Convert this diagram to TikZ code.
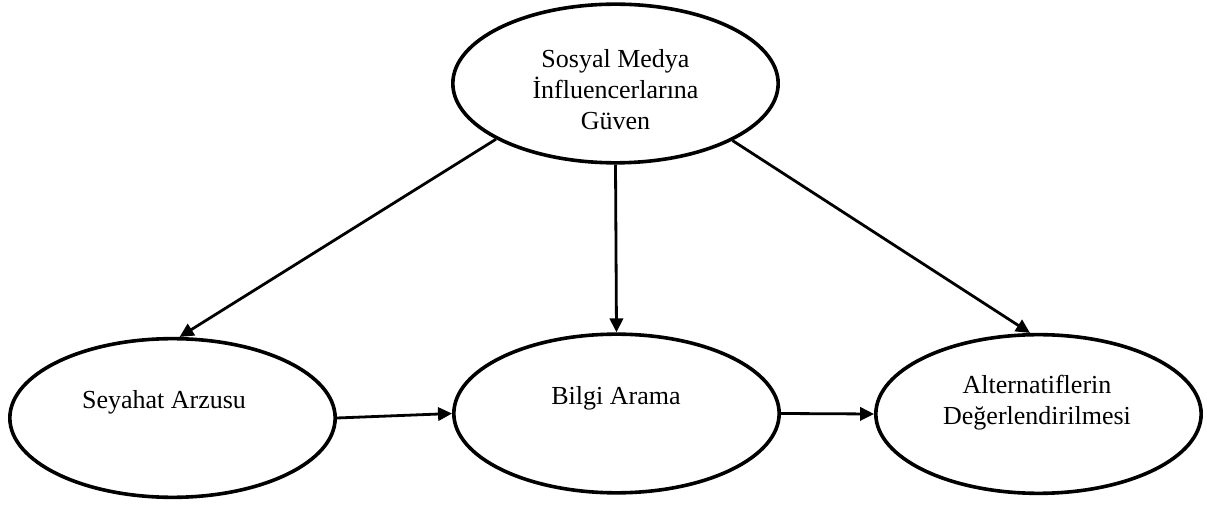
\documentclass[tikz,border=0pt]{standalone}
\usepackage{fontspec}
\setmainfont{Liberation Serif}
\usetikzlibrary{arrows.meta,positioning,shapes.geometric}

\tikzset{
  oval/.style={ellipse, draw, line width=2.7pt, minimum width=244pt, minimum height=119pt, inner sep=0pt},
  ovaltext/.style={align=center, font=\fontsize{19.5}{23.25}\selectfont, inner sep=0pt},
  causal/.style={-{Triangle[length=10.5pt,width=10pt]}, line width=2.1pt}
}

\begin{document}
\begin{tikzpicture}[x=0.75pt,y=-0.75pt]
	\useasboundingbox (0,0) rectangle (1207,505);
	
	% ovals
	\node[oval] (guven) at (615.5,83.5) {};
	\node[oval] (seyahat) at (172.5,418) {};
	\node[oval] (bilgi) at (616.5,413.5) {};
	\node[oval] (alternatif) at (1038.5,414) {};
	
	% texts
	\node[ovaltext] (guvenlabel) at (615.5,90) {Sosyal Medya\\İnfluencerlarına\\Güven};
	\node[ovaltext] (seyahatlabel) at (164,402) {Seyahat Arzusu};
	\node[ovaltext] (bilgilabel) at (616,398) {Bilgi Arama};
	\node[ovaltext] (alternatiflabel) at (1037,402.5) {Alternatiflerin\\Değerlendirilmesi};
	
	% arrows
	\draw[causal] (guven.205.5) -- (seyahat.85);
	\draw[causal] (guven.south) -- (bilgi.north);
	\draw[causal] (guven.334.7) -- (alternatif.96);
	\draw[causal] (seyahat.east) -- (bilgi.west);
	\draw[causal] (bilgi.east) -- (alternatif.west);
\end{tikzpicture}
\end{document}
